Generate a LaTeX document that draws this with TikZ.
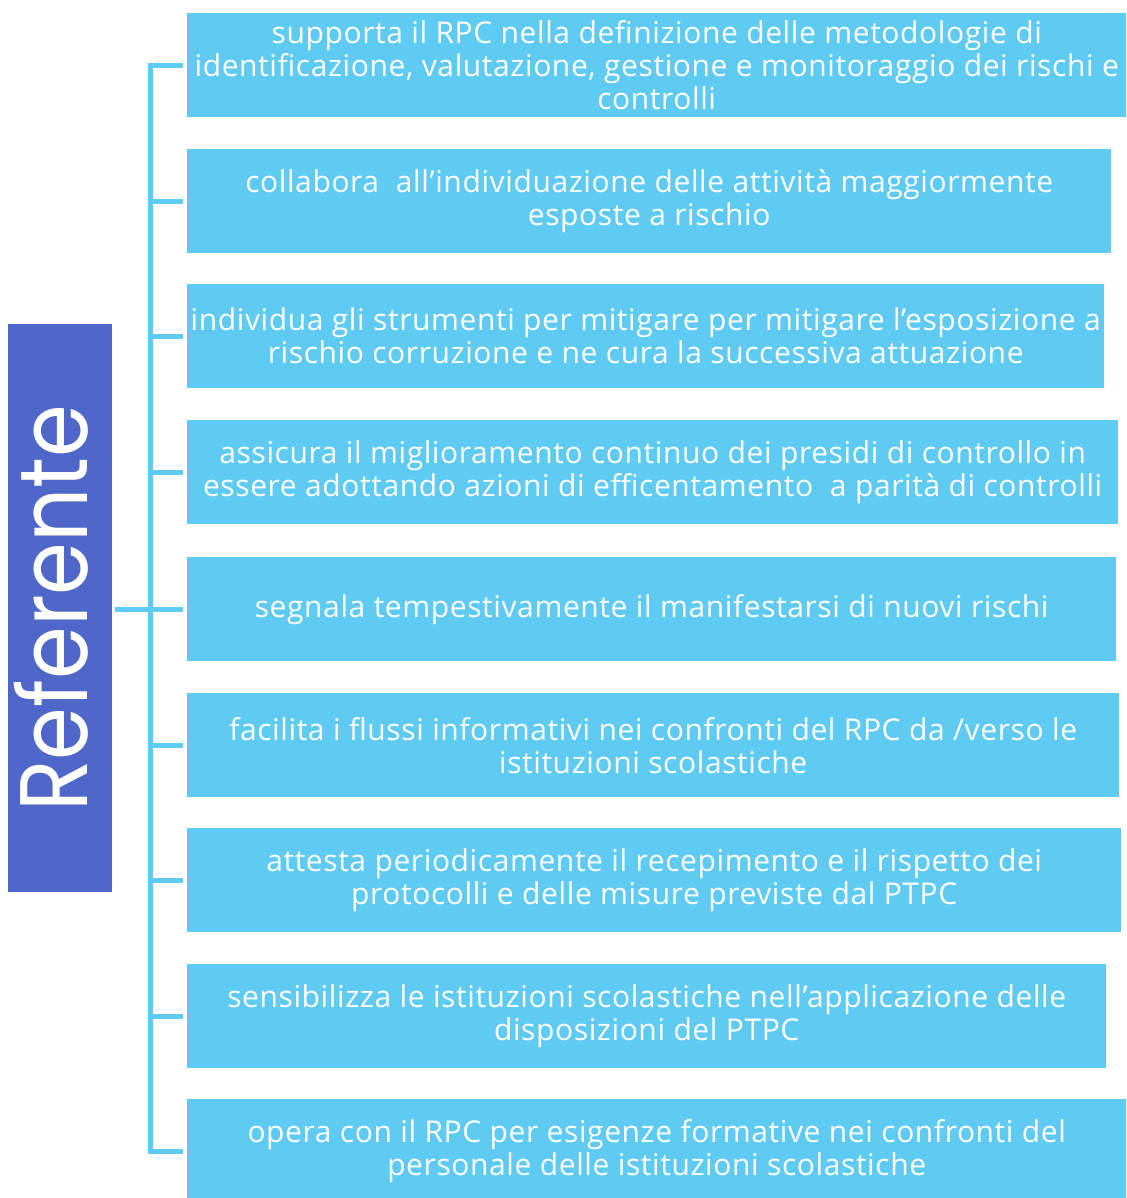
\documentclass[tikz,border=0pt]{standalone}
\usepackage{fontspec}
\setmainfont{Open Sans}[LetterSpace=2.0]
\newfontfamily\reffont{Poppins}
\definecolor{lb}{HTML}{5FCBF2}
\definecolor{db}{HTML}{4F67C8}
\begin{document}
\begin{tikzpicture}[x=1pt,y=-1pt,
  item/.style={fill=lb, text=white, align=center, inner sep=0pt, anchor=north west,
    minimum height=104pt, font=\fontsize{30}{33}\selectfont},
  conn/.style={draw=lb, line width=5pt}]
\useasboundingbox (0,0) rectangle (1126,1198);
\node[item, minimum width=939pt] (b1) at (187,13) {supporta il RPC nella definizione delle metodologie di\\identificazione, valutazione, gestione e monitoraggio dei rischi e\\controlli};
\node[item, minimum width=924pt] (b2) at (187,149) {collabora\ \ all'individuazione delle attività maggiormente\\esposte a rischio};
\node[item, minimum width=917pt] (b3) at (187,284) {individua gli strumenti per mitigare per mitigare l'esposizione a\\rischio corruzione e ne cura la successiva attuazione};
\node[item, minimum width=931pt] (b4) at (187,420) {assicura il miglioramento continuo dei presidi di controllo in\\essere adottando azioni di efficentamento\ \ a parità di controlli};
\node[item, minimum width=929pt] (b5) at (187,557) {segnala tempestivamente il manifestarsi di nuovi rischi};
\node[item, minimum width=932pt] (b6) at (187,693) {facilita i flussi informativi nei confronti del RPC da /verso le\\istituzioni scolastiche};
\node[item, minimum width=934pt] (b7) at (187,828) {attesta periodicamente il recepimento e il rispetto dei\\protocolli e delle misure previste dal PTPC};
\node[item, minimum width=919pt] (b8) at (187,964) {sensibilizza le istituzioni scolastiche nell'applicazione delle\\disposizioni del PTPC};
\node[item, minimum width=939pt] (b9) at (187,1099) {opera con il RPC per esigenze formative nei confronti del\\personale delle istituzioni scolastiche};
\node[fill=db, inner sep=0pt, anchor=north west, minimum width=104pt, minimum height=568pt] (ref) at (8,324) {};
\node[rotate=90, text=white, inner sep=0pt, font=\reffont\fontsize{96}{100}\selectfont] (reflabel) at ([xshift=-9pt]ref.center) {\scalebox{0.885}[1]{Referente}};
\coordinate (sx) at (150,0);
\draw[conn] ([xshift=-4pt]b1.west) -- (b1.west -| sx) -- (b9.west -| sx) -- ([xshift=-4pt]b9.west);
\foreach \i in {2,...,8}{
  \draw[conn] (b\i.west -| sx) -- ([xshift=-4pt]b\i.west);
}
\draw[conn] ([xshift=3pt]ref.east |- b5.west) -- (b5.west -| sx);
\end{tikzpicture}
\end{document}
